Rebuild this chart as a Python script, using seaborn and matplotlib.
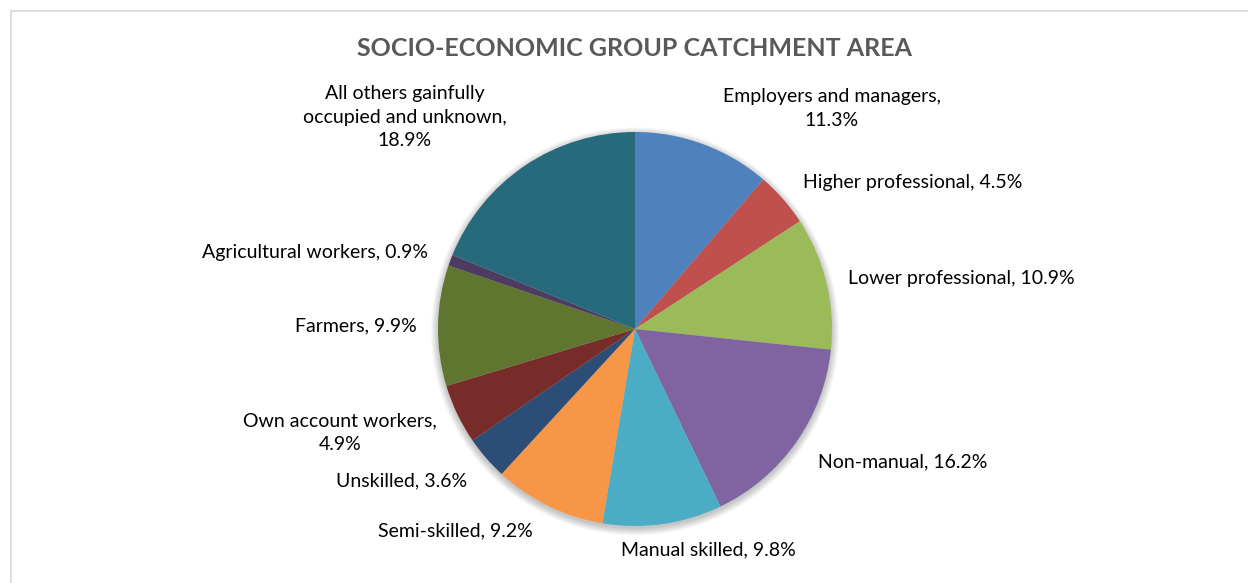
import matplotlib
matplotlib.use("Agg")
import matplotlib.pyplot as plt
from matplotlib.patches import Rectangle, Circle
import seaborn as sns

# Socio-economic group shares in the catchment area (%)
groups = [
    "Employers and managers",
    "Higher professional",
    "Lower professional",
    "Non-manual",
    "Manual skilled",
    "Semi-skilled",
    "Unskilled",
    "Own account workers",
    "Farmers",
    "Agricultural workers",
    "All others gainfully occupied and unknown",
]
shares = [11.3, 4.5, 10.9, 16.2, 9.8, 9.2, 3.6, 4.9, 9.9, 0.9, 18.9]

# Label text as shown around the pie (line breaks where the label wraps)
label_texts = [
    "Employers and managers,\n11.3%",
    "Higher professional, 4.5%",
    "Lower professional, 10.9%",
    "Non-manual, 16.2%",
    "Manual skilled, 9.8%",
    "Semi-skilled, 9.2%",
    "Unskilled, 3.6%",
    "Own account workers,\n4.9%",
    "Farmers, 9.9%",
    "Agricultural workers, 0.9%",
    "All others gainfully\noccupied and unknown,\n18.9%",
]

title = "SOCIO-ECONOMIC GROUP CATCHMENT AREA"

# Office-style palette
palette = sns.color_palette([
    "#4F81BD", "#C0504D", "#9BBB59", "#8064A2", "#4BACC6", "#F79646",
    "#2C4D75", "#772C2A", "#5F7530", "#4D3B62", "#276A7C",
])

# Label centres in pie-radius units (pie centred at the origin)
label_pos = [
    (1.00, 1.12), (1.41, 0.746), (1.657, 0.254), (1.358, -0.675),
    (0.371, -1.122), (-0.911, -1.025), (-1.183, -0.772), (-1.497, -0.528),
    (-1.416, 0.015), (-1.622, 0.386), (-1.170, 1.076),
]

sns.set_theme(style="white")
plt.rcParams["font.family"] = ["Lato", "DejaVu Sans"]

W, H = 1248, 583
fig = plt.figure(figsize=(W / 100, H / 100), dpi=100)
ax = fig.add_axes([0, 0, 1, 1])

cx_px, cy_px, r_px = 635, 329, 197

# soft drop shadow under the pie
for k in range(10):
    ax.add_patch(Circle((0.0, -0.012), 1.0 + 0.004 * k, facecolor="#000000",
                        alpha=0.022, edgecolor="none", zorder=0))

wedges, _ = ax.pie(
    shares, colors=palette, startangle=90, counterclock=False,
    radius=1.0, center=(0, 0), frame=True,
    wedgeprops=dict(linewidth=0, edgecolor="none"),
)
for w in wedges:
    w.set_zorder(2)
ax.set_xlim(-cx_px / r_px, (W - cx_px) / r_px)
ax.set_ylim(-(H - cy_px) / r_px, cy_px / r_px)
ax.set_aspect("auto")
ax.axis("off")

for txt, (lx, ly) in zip(label_texts, label_pos):
    ax.text(lx, ly, txt, ha="center", va="center", fontsize=14,
            color="#000000", linespacing=1.47, zorder=3)

fig.text(634.5 / W, 1 - 48 / H, title, ha="center", va="center",
         fontsize=18, fontweight="bold", color="#595959")

# chart-area border
fig.patches.append(Rectangle((11 / W, -0.05), 1.2, 1 - 11 / H + 0.05,
                             transform=fig.transFigure, fill=False,
                             edgecolor="#D9D9D9", linewidth=1.3))

fig.savefig("out.png", dpi=100, facecolor="white")
